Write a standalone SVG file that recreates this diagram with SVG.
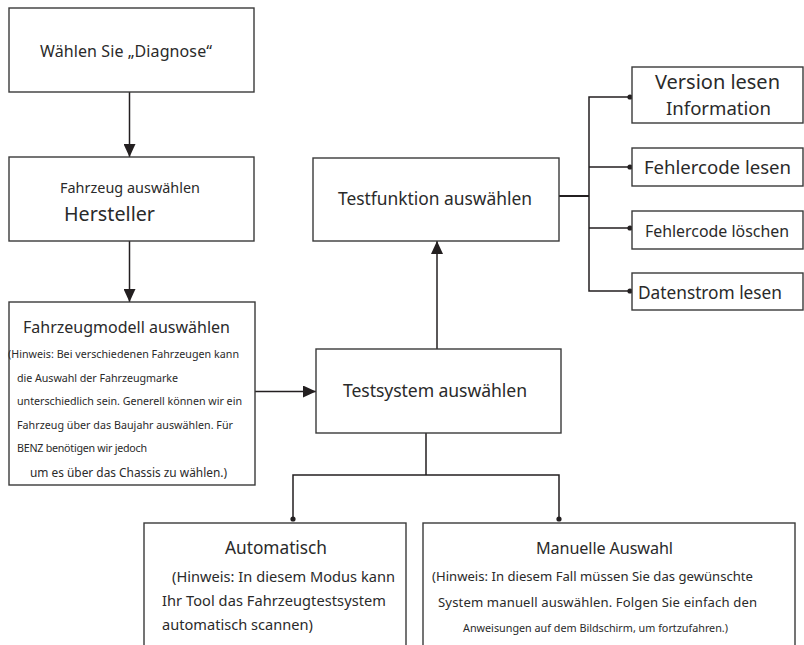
<svg xmlns="http://www.w3.org/2000/svg" width="804" height="645" viewBox="0 0 804 645">
<defs>
<style>
.box{fill:#fff;stroke:#3a3a3a;stroke-width:1.4}
.ln{fill:none;stroke:#231f20;stroke-width:1.5}
.t{font-family:"Noto Sans","Open Sans","DejaVu Sans",sans-serif;fill:#2a2a2a}
.dot{fill:#231f20}
</style>
<marker id="ah" viewBox="0 0 13 12" refX="13" refY="6" markerWidth="13" markerHeight="12" markerUnits="userSpaceOnUse" orient="auto">
<path d="M0,0 L13,6 L0,12 z" fill="#231f20"/>
</marker>
</defs>
<rect width="804" height="645" fill="#fff"/>
<g id="connectors">
<path class="ln" d="M129.5,92 V157" marker-end="url(#ah)"/>
<path class="ln" d="M129.5,241 V302" marker-end="url(#ah)"/>
<path class="ln" d="M255,391.5 H316" marker-end="url(#ah)"/>
<path class="ln" d="M437,349 V241" marker-end="url(#ah)"/>
<path class="ln" d="M559,196 H589" style="stroke-width:2"/>
<path class="ln" d="M630,97 H589 V291 H630 M589,167 H630 M589,228 H630"/>
<circle class="dot" cx="630" cy="97" r="2.6"/>
<circle class="dot" cx="630" cy="167" r="2.6"/>
<circle class="dot" cx="630" cy="228" r="2.6"/>
<circle class="dot" cx="630" cy="291" r="2.6"/>
<path class="ln" d="M426,433 V475 M293,519 V475 H559 V519"/>
<circle class="dot" cx="293" cy="519" r="2.6"/>
<circle class="dot" cx="559" cy="519" r="2.6"/>
</g>
<g id="diagnose">
<rect class="box" x="9" y="8" width="245" height="84"/>
<text class="t" x="40" y="57" font-size="16" textLength="172">Wählen Sie „Diagnose“</text>
</g>
<g id="fahrzeug">
<rect class="box" x="9" y="157" width="245" height="84"/>
<text class="t" x="60" y="193" font-size="14.4" textLength="140">Fahrzeug auswählen</text>
<text class="t" x="64" y="221" font-size="19.7" textLength="91">Hersteller</text>
</g>
<g id="modell">
<rect class="box" x="9" y="302" width="246" height="183"/>
<text class="t" x="23" y="333" font-size="16" textLength="207">Fahrzeugmodell auswählen</text>
<text class="t" x="8" y="358" font-size="10.7" textLength="231">(Hinweis: Bei verschiedenen Fahrzeugen kann</text>
<text class="t" x="17" y="382" font-size="10.7" textLength="161">die Auswahl der Fahrzeugmarke</text>
<text class="t" x="17" y="405" font-size="10.7" textLength="225">unterschiedlich sein. Generell können wir ein</text>
<text class="t" x="17" y="429" font-size="10.7" textLength="216">Fahrzeug über das Baujahr auswählen. Für</text>
<text class="t" x="17" y="452" font-size="10.7" textLength="130">BENZ benötigen wir jedoch</text>
<text class="t" x="30" y="477" font-size="11.9" textLength="197">um es über das Chassis zu wählen.)</text>
</g>
<g id="testsystem">
<rect class="box" x="316" y="349" width="245" height="84"/>
<text class="t" x="343" y="397" font-size="17.6" textLength="184">Testsystem auswählen</text>
</g>
<g id="testfunktion">
<rect class="box" x="313" y="158" width="246" height="83"/>
<text class="t" x="338" y="205" font-size="17.4" textLength="194">Testfunktion auswählen</text>
</g>
<g id="version">
<rect class="box" x="632" y="67" width="171" height="56"/>
<text class="t" x="655" y="89" font-size="20" textLength="125">Version lesen</text>
<text class="t" x="666" y="115" font-size="18.6" textLength="105">Information</text>
</g>
<g id="fehlerlesen">
<rect class="box" x="632" y="148" width="171" height="38"/>
<text class="t" x="644" y="174" font-size="18.6" textLength="147">Fehlercode lesen</text>
</g>
<g id="fehlerloeschen">
<rect class="box" x="632" y="211" width="171" height="38"/>
<text class="t" x="645" y="237" font-size="15.9" textLength="144">Fehlercode löschen</text>
</g>
<g id="datenstrom">
<rect class="box" x="632" y="273" width="171" height="37"/>
<text class="t" x="638" y="299" font-size="17.3" textLength="144">Datenstrom lesen</text>
</g>
<g id="automatisch">
<rect class="box" x="144" y="523" width="262" height="130"/>
<text class="t" x="225" y="554" font-size="17.3" textLength="102">Automatisch</text>
<text class="t" x="172" y="582" font-size="14.6" textLength="223">(Hinweis: In diesem Modus kann</text>
<text class="t" x="162" y="606" font-size="14.6" textLength="224">Ihr Tool das Fahrzeugtestsystem</text>
<text class="t" x="162" y="630" font-size="14.6" textLength="151">automatisch scannen)</text>
</g>
<g id="manuell">
<rect class="box" x="423" y="523" width="372" height="130"/>
<text class="t" x="536" y="554" font-size="16.2" textLength="137">Manuelle Auswahl</text>
<text class="t" x="432" y="581" font-size="13.1" textLength="321">(Hinweis: In diesem Fall müssen Sie das gewünschte</text>
<text class="t" x="438" y="607" font-size="13.1" textLength="319">System manuell auswählen. Folgen Sie einfach den</text>
<text class="t" x="463" y="632" font-size="10.8" textLength="265">Anweisungen auf dem Bildschirm, um fortzufahren.)</text>
</g>
</svg>
